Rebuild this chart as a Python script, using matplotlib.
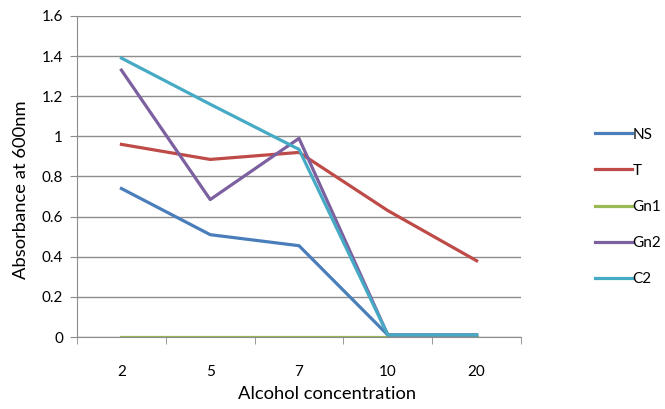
import matplotlib.pyplot as plt

concentrations = ["2", "5", "7", "10", "20"]
ns = [0.74, 0.51, 0.455, 0.01, 0.01]
t = [0.96, 0.885, 0.92, 0.63, 0.38]
gn1 = [0.0, 0.0, 0.0, 0.0, 0.0]
gn2 = [1.33, 0.685, 0.99, 0.01, 0.01]
c2 = [1.39, 1.16, 0.935, 0.01, 0.01]

series = [
    ("NS", ns, "#4A7EBB"),
    ("T", t, "#BE4B48"),
    ("Gn1", gn1, "#98B954"),
    ("Gn2", gn2, "#7D60A0"),
    ("C2", c2, "#46AAC5"),
]

plt.rcParams['font.family'] = ['Lato', 'DejaVu Sans']
axis_grey = "#8c8c8c"

fig = plt.figure(figsize=(6.65, 4.09), dpi=100)
ax = fig.add_axes([0.1158, 0.176, 0.6677, 0.785])

x = list(range(len(concentrations)))
for name, vals, color in series:
    ax.plot(x, vals, color=color, lw=2.3, label=name)

ax.set_xlim(-0.5, len(concentrations) - 0.5)
ax.set_ylim(0, 1.6)
ax.set_yticks([i * 0.2 for i in range(9)])
ax.set_yticklabels(["0", "0.2", "0.4", "0.6", "0.8", "1", "1.2", "1.4", "1.6"])
ax.yaxis.grid(True, color=axis_grey, lw=1)
ax.set_axisbelow(True)

# category labels centred, tick marks between categories
ax.set_xticks(x)
ax.set_xticklabels(concentrations)
ax.tick_params(axis='x', length=0, pad=20, labelsize=11)
ax.set_xticks([i - 0.5 for i in range(len(concentrations) + 1)], minor=True)
ax.tick_params(axis='x', which='minor', length=5, color=axis_grey, direction='out')
ax.tick_params(axis='y', length=5, color=axis_grey, labelsize=11, pad=5)

for side in ['top', 'right']:
    ax.spines[side].set_visible(False)
ax.spines['left'].set_color(axis_grey)
ax.spines['bottom'].set_color(axis_grey)

ax.set_xlabel("Alcohol concentration", fontsize=13.2)
ax.xaxis.set_label_coords(0.564, -0.152)
ax.set_ylabel("Absorbance at 600nm", fontsize=13.2)
ax.yaxis.set_label_coords(-0.108, 0.458)

fig.legend(loc='upper left', bbox_to_anchor=(0.8947, 0.688), frameon=False,
           fontsize=11, handlelength=2.42, handletextpad=0.05,
           labelspacing=1.45, borderpad=0, borderaxespad=0)

fig.savefig("out.png", dpi=100)
